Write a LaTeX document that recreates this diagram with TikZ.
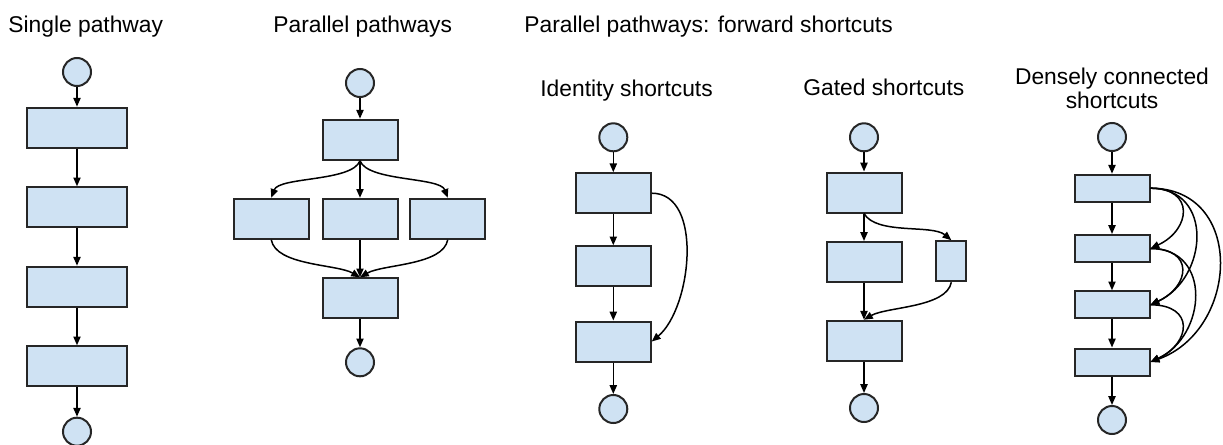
\documentclass[tikz,border=0pt]{standalone}
\usepackage{fontspec}
\setmainfont{Liberation Sans}
\usetikzlibrary{arrows.meta}
\definecolor{cellblue}{HTML}{CFE2F3}
\begin{document}
\begin{tikzpicture}[x=0.5pt,y=0.5pt,
  >={Triangle[length=4.4pt,width=3.6pt]},
  blk/.style={draw=black!85,fill=cellblue,line width=1pt,minimum width=37.5pt,minimum height=20pt,inner sep=0pt},
  io/.style={circle,draw=black!85,fill=cellblue,line width=1pt,minimum size=14pt,inner sep=0pt},
  heading/.style={inner sep=0pt,font=\fontsize{11.4}{12}\selectfont},
  lnk/.style={->,line width=0.75pt}]
\useasboundingbox (0,0) rectangle (1223,-445);
% titles
\node[heading,anchor=base west] (t1) at (8,-32.3) {Single pathway};
\node[heading,anchor=base west] (t2) at (273,-32.5) {Parallel pathways};
\node[heading,anchor=base west] (t3) at (524,-32.5) {Parallel pathways: forward shortcuts};
\node[heading,anchor=base west] (t4) at (540,-96.7) {Identity shortcuts};
\node[heading,anchor=base west] (t5) at (803,-95.7) {Gated shortcuts};
\node[heading,align=center,anchor=north] (t6) at (1112,-67.5) {Densely connected\\shortcuts};
% single pathway
\node[io] (s0) at (77,-72) {};
\node[blk,minimum width=50pt] (s1) at (77,-127.7) {};
\node[blk,minimum width=50pt] (s2) at (77,-207.3) {};
\node[blk,minimum width=50pt] (s3) at (77,-286.7) {};
\node[blk,minimum width=50pt] (s4) at (77,-366.3) {};
\node[io] (s5) at (77,-431.7) {};
\draw[lnk] (s0) -- (s1);
\draw[lnk] (s1) -- (s2);
\draw[lnk] (s2) -- (s3);
\draw[lnk] (s3) -- (s4);
\draw[lnk] (s4) -- (s5);
% parallel pathways
\node[io] (p0) at (360,-83) {};
\node[blk] (p1) at (360,-139.7) {};
\node[blk] (p2) at (271.3,-218.8) {};
\node[blk] (p3) at (360,-218.8) {};
\node[blk] (p4) at (447.7,-218.8) {};
\node[blk] (p5) at (360,-298.3) {};
\node[io] (p6) at (360,-362.3) {};
\draw[lnk] (p0) -- (p1);
\draw[lnk] (p1.south) to[out=-110,in=70,looseness=0.6] (p2.north);
\draw[lnk] (p1) -- (p3);
\draw[lnk] (p1.south) to[out=-70,in=110,looseness=0.6] (p4.north);
\draw[lnk] (p2.south) to[out=-80,in=150,looseness=0.7] (p5.north);
\draw[lnk] (p3) -- (p5);
\draw[lnk] (p4.south) to[out=-100,in=30,looseness=0.7] (p5.north);
\draw[lnk] (p5) -- (p6);
% identity shortcuts
\node[io] (i0) at (613.3,-137.3) {};
\node[blk] (i1) at (613.3,-193.2) {};
\node[blk] (i2) at (613.3,-266.3) {};
\node[blk] (i3) at (613.3,-341.5) {};
\node[io] (i4) at (613.3,-409) {};
\draw[lnk] (i0) -- (i1);
\draw[lnk] (i1) -- (i2);
\draw[lnk] (i2) -- (i3);
\draw[lnk] (i3) -- (i4);
\draw[lnk] (i1.east) to[out=0,in=40,looseness=0.9] (i3.east);
% gated shortcuts
\node[io] (g0) at (864,-137.3) {};
\node[blk] (g1) at (864,-192.5) {};
\node[blk] (g2) at (864,-262) {};
\node[blk] (g3) at (864,-340.7) {};
\node[blk,minimum width=15pt] (gate) at (951.3,-261.2) {};
\node[io] (g4) at (864,-408) {};
\draw[lnk] (g0) -- (g1);
\draw[lnk] (g1) -- (g2);
\draw[lnk] (g2) -- (g3);
\draw[lnk] (g3) -- (g4);
\draw[lnk] (g1.south) to[out=-60,in=140,looseness=0.7] (gate.north);
\draw[lnk] (gate.south) to[out=-100,in=30,looseness=0.7] (g3.north);
% densely connected shortcuts
\node[io] (d0) at (1112,-137) {};
\node[blk,minimum height=13.5pt] (d1) at (1112,-188.2) {};
\node[blk,minimum height=13.5pt] (d2) at (1112,-248.5) {};
\node[blk,minimum height=13.5pt] (d3) at (1112,-304.8) {};
\node[blk,minimum height=13.5pt] (d4) at (1112,-362) {};
\node[io] (d5) at (1112,-420) {};
\draw[lnk] (d0) -- (d1);
\draw[lnk] (d1) -- (d2);
\draw[lnk] (d2) -- (d3);
\draw[lnk] (d3) -- (d4);
\draw[lnk] (d4) -- (d5);
\draw[lnk] (d1.east) to[out=0,in=25,looseness=1.9] (d2.east);
\draw[lnk] (d1.east) to[out=0,in=25,looseness=1.4] (d3.east);
\draw[lnk] (d1.east) to[out=0,in=20,looseness=1.4] (d4.east);
\draw[lnk] (d2.east) to[out=0,in=25,looseness=2] (d3.east);
\draw[lnk] (d2.east) to[out=0,in=25,looseness=1.4] (d4.east);
\draw[lnk] (d3.east) to[out=0,in=25,looseness=2] (d4.east);
\end{tikzpicture}
\end{document}
